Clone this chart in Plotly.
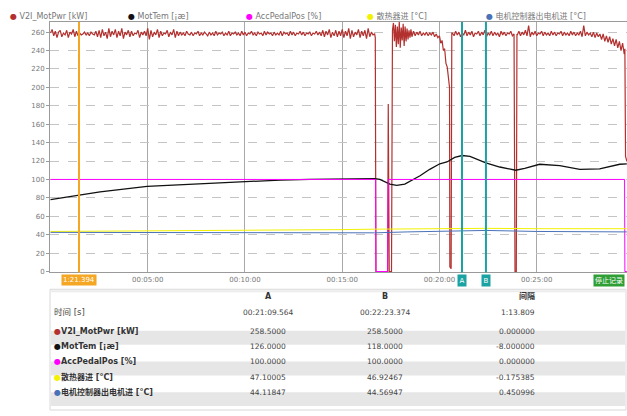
import plotly.graph_objects as go

FONT = "DejaVu Sans, Noto Sans CJK SC"

# ---------------- data (time in seconds) ----------------
pwr_t = [0,5,10,15,20,25,30,35,40,45,50,55,60,65,70,75,80,85,90,95,
         100,105,110,115,120,125,130,135,140,145,150,155,160,165,170,175,180,185,190,195,
         200,205,210,215,220,225,230,235,240,245,250,255,260,265,270,275,280,285,290,295,
         300,305,310,315,320,325,330,335,340,345,350,355,360,365,370,375,380,385,390,395,
         400,405,410,415,420,425,430,435,440,445,450,455,460,465,470,475,480,485,490,495,
         500,505,510,515,520,525,530,535,540,545,550,555,560,565,570,575,580,585,590,595,
         600,605,610,615,620,625,630,635,640,645,650,655,660,665,670,675,680,685,690,695,
         700,705,710,715,720,725,730,735,740,745,750,755,760,765,770,775,780,785,790,795,
         800,805,810,815,820,825,830,835,840,845,850,855,860,865,870,875,880,885,890,895,
         900,905,910,915,920,925,930,935,940,945,950,955,960,965,970,975,980,985,990,995,
         1000,1002,1004,1040,1042,1045,1052,1055,1058,1061,1064,1067,1070,1073,1076,1079,
         1082,1085,1088,1091,1094,1097,1100,1103,1106,1109,1112,1115,1120,1125,1130,1135,
         1140,1145,1150,1155,1160,1165,1170,1175,1180,1185,1190,1195,1200,1204,1208,1212,
         1216,1220,1224,1228,1231,1232,1236,1238,
         1240,1245,1250,1255,1260,1265,1270,1275,1280,1285,1290,1295,1300,1305,1310,1315,
         1320,1325,1330,1335,1340,1345,1350,1355,1360,1365,1370,1375,1380,1385,1390,1395,
         1400,1405,1410,1415,1420,1425,1430,1433,1437,1439,
         1440,1445,1450,1455,1460,1465,1470,1475,1480,1485,1490,1495,1500,1505,1510,1515,
         1520,1525,1530,1535,1540,1545,1550,1555,1560,1565,1570,1575,1580,1585,1590,1595,
         1600,1605,1610,1615,1620,1625,1630,1635,1640,1645,1650,1655,1660,1665,1670,1675,
         1680,1685,1690,1695,1700,1705,1710,1715,1720,1725,1730,1735,1740,1745,1750,1755,
         1760,1765,1770,1772,1774,1778]
pwr_v = [259,263,256,261,254,260,262,255,259,257,262,254,260,258,263,255,261,256,259,257,
         258,260,257,259,256,260,258,257,261,255,262,254,263,256,260,253,264,255,261,257,
         263,254,261,256,264,253,260,257,262,255,261,256,259,258,262,254,260,257,261,256,
         264,252,262,255,260,257,263,254,261,256,259,258,262,255,260,257,263,254,261,256,
         260,257,259,256,261,258,257,260,256,259,258,261,256,259,257,260,258,256,260,257,
         259,256,261,257,259,258,260,256,259,257,261,256,259,258,260,257,259,256,261,257,
         260,256,259,258,261,257,259,256,260,258,259,256,261,257,260,258,259,256,260,257,
         259,257,261,256,260,258,259,256,261,257,260,256,259,258,261,257,260,256,259,258,
         260,256,259,258,261,257,260,256,262,255,261,257,263,254,260,256,262,255,261,256,
         263,254,261,256,264,253,262,255,260,257,263,254,261,256,262,253,264,255,260,257,
         258,254,0,0,182,0,0,262,270,250,268,244,266,247,271,243,
         265,251,269,245,266,250,264,252,262,254,263,255,261,256,260,257,
         261,256,259,257,260,256,259,257,260,255,258,254,256,248,251,240,
         242,226,222,208,200,5,3,259,
         259,256,261,257,260,255,259,257,262,256,260,257,261,255,259,258,
         261,256,260,257,262,255,259,257,261,256,260,257,259,255,261,257,
         260,256,259,258,261,256,258,0,0,258,
         257,261,256,260,257,262,256,267,255,260,257,261,256,259,258,261,
         256,260,257,259,256,261,257,260,256,259,258,261,256,260,257,259,
         256,261,257,260,256,259,257,261,255,267,256,260,257,259,255,260,
         254,259,255,258,252,258,250,256,249,255,247,253,245,252,243,250,
         240,248,236,242,125,120]

tem_t = [0,88,153,298,461,600,708,800,899,1001,1016,1047,1068,1093,1140,1170,1201,1223,
         1247,1270,1294,1343,1386,1435,1463,1509,1571,1633,1694,1756,1778]
tem_v = [78,83,86.5,92.5,95.5,98,99.3,100,100.6,100.8,100,95,93.5,95,104,111,117,119,
         124,126,125,118,113.5,110,112,116.5,115,111,111.5,116.5,117]

acc_t = [0,1003,1004,1040,1041,1042,1771,1772,1778]
acc_v = [100,100,0,0,60,100,100,0,0]

rad_t = [0,300,600,900,1000,1100,1270,1343,1500,1778]
rad_v = [43.5,44,44.5,45.5,46,46.5,47.1,46.9,46.5,46.5]

mot_t = [0,500,1000,1100,1270,1343,1500,1778]
mot_v = [42.5,42,42,43,44.1,44.6,43.5,43]

x_tickvals = [300,600,900,1200,1500]
x_ticktext = ["00:05:00","00:10:00","00:15:00","00:20:00","00:25:00"]
y_tickvals = [0,20,40,60,80,100,120,140,160,180,200,220,240,260]

cursor_main = 88
cursor_main_label = "1:21.394"
cursor_a = 1269.564
cursor_b = 1343.374

series_names = ["V2I_MotPwr [kW]", "MotTem [¡æ]", "AccPedalPos [%]",
                "散热器进 [°C]", "电机控制器出电机进 [°C]"]
series_colors = ["#b2302e", "#111111", "#ff00ff", "#f2f200", "#4a72b8"]

table_cols = ["A", "B", "间隔"]
table_time = ["00:21:09.564", "00:22:23.374", "1:13.809"]
table_A = ["258.5000", "126.0000", "100.0000", "47.10005", "44.11847"]
table_B = ["258.5000", "118.0000", "100.0000", "46.92467", "44.56947"]
table_D = ["0.000000", "-8.000000", "0.000000", "-0.175385", "0.450996"]

# ---------------- figure ----------------
W, H = 627, 416
ML, MT = 50, 22
PW, PH = W - ML, H - MT
plot_bottom_px = 275


def px(x):
    return (x - ML) / PW


def py(y):
    return (H - y) / PH


fig = go.Figure()
data = [(pwr_t, pwr_v), (tem_t, tem_v), (acc_t, acc_v), (rad_t, rad_v), (mot_t, mot_v)]
widths = [1.2, 1.3, 1, 1, 1]
for (t, v), name, col, w in zip(data, series_names, series_colors, widths):
    fig.add_trace(go.Scatter(x=t, y=v, mode="lines", name=name,
                             line=dict(color=col, width=w), showlegend=False))

shapes = []
# cursors
shapes.append(dict(type="line", xref="x", yref="paper", x0=cursor_main, x1=cursor_main,
                   y0=py(plot_bottom_px), y1=1, line=dict(color="#f5a623", width=2)))
for c in (cursor_a, cursor_b):
    shapes.append(dict(type="line", xref="x", yref="paper", x0=c, x1=c,
                       y0=py(plot_bottom_px), y1=1, line=dict(color="#1ba3a3", width=2)))

# table frame and bands
shapes.append(dict(type="rect", xref="paper", yref="paper", x0=px(50), x1=px(626),
                   y0=py(414), y1=py(292), line=dict(color="#d8d8d8", width=1),
                   fillcolor="rgba(0,0,0,0)", layer="below"))
shapes.append(dict(type="line", xref="paper", yref="paper", x0=px(50), x1=px(626),
                   y0=py(294), y1=py(294), line=dict(color="#ececec", width=2), layer="below"))
row_y = [341, 356.5, 372, 387.5, 403]
for i, ry in enumerate(row_y):
    if i % 2 == 0:
        shapes.append(dict(type="rect", xref="paper", yref="paper", x0=px(51), x1=px(625),
                           y0=py(ry + 7), y1=py(ry - 7), line=dict(width=0),
                           fillcolor="#e6e6e6", layer="below"))

ann = []
# legend
leg_x = [8, 126, 244, 365, 484]
for name, col, lx in zip(series_names, series_colors, leg_x):
    ann.append(dict(xref="paper", yref="paper", x=px(lx), y=py(16), xanchor="left",
                    yanchor="middle", showarrow=False,
                    text=f'<span style="color:{col}">●</span> {name}',
                    font=dict(family=FONT, size=8, color="#777")))

# cursor labels
ann.append(dict(xref="x", yref="paper", x=cursor_main, y=py(283), text=cursor_main_label,
                showarrow=False, bgcolor="#f5a623", font=dict(family=FONT, size=7, color="white"),
                borderpad=1, xanchor="center", yanchor="middle"))
for c, lab in ((cursor_a, "A"), (cursor_b, "B")):
    ann.append(dict(xref="x", yref="paper", x=c, y=py(283), text=lab, showarrow=False,
                    bgcolor="#1ba3a3", font=dict(family=FONT, size=7, color="white"),
                    borderpad=1.5, xanchor="center", yanchor="middle"))
ann.append(dict(xref="paper", yref="paper", x=px(593), y=py(283), text="停止记录",
                showarrow=False, bgcolor="#2e9e35", font=dict(family=FONT, size=7, color="white"),
                borderpad=1, xanchor="left", yanchor="middle"))

# table text
col_x = [268, 385, 537]
for cx, head, tm in zip(col_x, table_cols, table_time):
    ann.append(dict(xref="paper", yref="paper", x=px(cx), y=py(306), text=f"<b>{head}</b>",
                    showarrow=False, font=dict(family=FONT, size=8, color="#333")))
    ann.append(dict(xref="paper", yref="paper", x=px(cx), y=py(322), text=tm,
                    showarrow=False, font=dict(family=FONT, size=7.5, color="#444")))
ann.append(dict(xref="paper", yref="paper", x=px(52), y=py(322), text="时间 [s]",
                xanchor="left", showarrow=False, font=dict(family=FONT, size=8.5, color="#444")))
for i, (name, col) in enumerate(zip(series_names, series_colors)):
    ry = row_y[i]
    ann.append(dict(xref="paper", yref="paper", x=px(52), y=py(ry), xanchor="left",
                    showarrow=False,
                    text=f'<span style="color:{col}">●</span><b>{name}</b>',
                    font=dict(family=FONT, size=8, color="#333")))
    for cx, vals in zip(col_x, (table_A, table_B, table_D)):
        ann.append(dict(xref="paper", yref="paper", x=px(cx), y=py(ry), text=vals[i],
                        showarrow=False, font=dict(family=FONT, size=7.5, color="#444")))

fig.update_layout(
    width=W, height=H,
    margin=dict(l=ML, r=0, t=MT, b=0, pad=0),
    paper_bgcolor="white", plot_bgcolor="white",
    shapes=shapes, annotations=ann,
    xaxis=dict(range=[-1.5, 1778.5], tickvals=x_tickvals, ticktext=x_ticktext,
               showgrid=True, gridcolor="#a8a8a8", gridwidth=1, zeroline=False,
               showline=True, linecolor="#9a9a9a", linewidth=1, mirror=True, ticks="",
               tickfont=dict(family=FONT, size=7, color="#777"), fixedrange=True),
    yaxis=dict(range=[-1, 271], tickvals=y_tickvals, domain=[py(plot_bottom_px), 1],
               showgrid=True, gridcolor="#c4c4c4", griddash="dash", gridwidth=1,
               zeroline=False, showline=True, linecolor="#9a9a9a", linewidth=1,
               ticks="outside", ticklen=3, tickcolor="#9a9a9a",
               tickfont=dict(family=FONT, size=7, color="#777"), fixedrange=True),
    showlegend=False,
)

fig.write_html("out.html", config={"displayModeBar": False},
               post_script="document.body.style.margin='0px';document.body.style.overflow='hidden';")
